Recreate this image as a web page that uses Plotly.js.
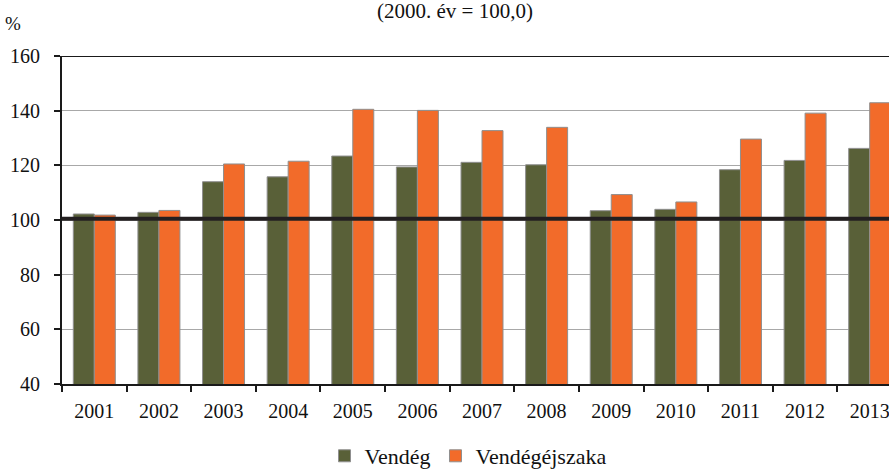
<!DOCTYPE html>
<html>
<head>
<meta charset="utf-8">
<script src="https://cdn.plot.ly/plotly-3.0.1.min.js"></script>
<style>
html,body{margin:0;padding:0;overflow:hidden;background:#fff;}
#chart{width:920px;height:470px;}
</style>
</head>
<body>
<div id="chart"></div>
<script>
var years = ["2001","2002","2003","2004","2005","2006","2007","2008","2009","2010","2011","2012","2013"];
var vendeg = [102.2,102.8,114.0,115.8,123.4,119.4,121.1,120.2,103.4,103.9,118.4,121.8,126.2];
var vendegejszaka = [101.8,103.5,120.5,121.5,140.5,140.1,132.7,133.9,109.3,106.6,129.6,139.1,142.9];
var yTicks = [40,60,80,100,120,140,160];
var baseLevel = 100.5;

var font = "'Liberation Serif', 'Times New Roman', serif";

var traces = [
  {type:'bar', name:'Vendég', x:years, y:vendeg,
   marker:{color:'#596038', line:{color:'#8f8f8f', width:1}}, hoverinfo:'none'},
  {type:'bar', name:'Vendégéjszaka', x:years, y:vendegejszaka,
   marker:{color:'#f26b2a', line:{color:'#8f8f8f', width:1}}, hoverinfo:'none'}
];

var layout = {
  width:920, height:470,
  margin:{l:62, r:18, t:56, b:86, autoexpand:false},
  paper_bgcolor:'#fff', plot_bgcolor:'#fff',
  font:{family:font, size:20, color:'#111'},
  barmode:'group', bargap:0.35, bargroupgap:0,
  title:{text:'(2000. év = 100,0)', font:{family:font, size:21, color:'#111'},
         x:455/920, xanchor:'center', xref:'container', yref:'container', y:1-3/470, yanchor:'top', pad:{t:0}},
  xaxis:{type:'category', range:[-0.5,12.5], showline:true, linecolor:'#1a1a1a', linewidth:2,
         ticks:'outside', tickson:'boundaries', ticklen:6, tickwidth:2, tickcolor:'#1a1a1a',
         ticklabelstandoff:8, automargin:false,
         showgrid:false, zeroline:false, fixedrange:true},
  yaxis:{range:[40,160], tickvals:yTicks, showline:true, linecolor:'#1a1a1a', linewidth:2,
         ticks:'outside', ticklen:6, tickwidth:2, tickcolor:'#1a1a1a', ticklabelstandoff:10,
         automargin:false,
         showgrid:true, gridcolor:'#a8a8a8', gridwidth:1.3, zeroline:false, fixedrange:true},
  showlegend:true,
  legend:{orientation:'h', xref:'container', yref:'container', x:468/920, xanchor:'center',
          y:14/470, yanchor:'middle',
          font:{family:font, size:22, color:'#111'}, itemwidth:30, tracegroupgap:0},
  shapes:[
    {type:'line', xref:'paper', x0:0, x1:1, yref:'y', y0:160, y1:160, line:{color:'#1a1a1a', width:2}},
    {type:'line', xref:'paper', x0:0, x1:1, yref:'y', y0:baseLevel, y1:baseLevel, line:{color:'#231f20', width:4}}
  ],
  annotations:[
    {text:'%', xref:'paper', yref:'paper', x:-0.058, y:1.0+ (56-24)/328, xanchor:'center', yanchor:'middle',
     showarrow:false, font:{family:font, size:19, color:'#111'}}
  ]
};

Plotly.newPlot('chart', traces, layout, {staticPlot:true, displayModeBar:false});
</script>
</body>
</html>
